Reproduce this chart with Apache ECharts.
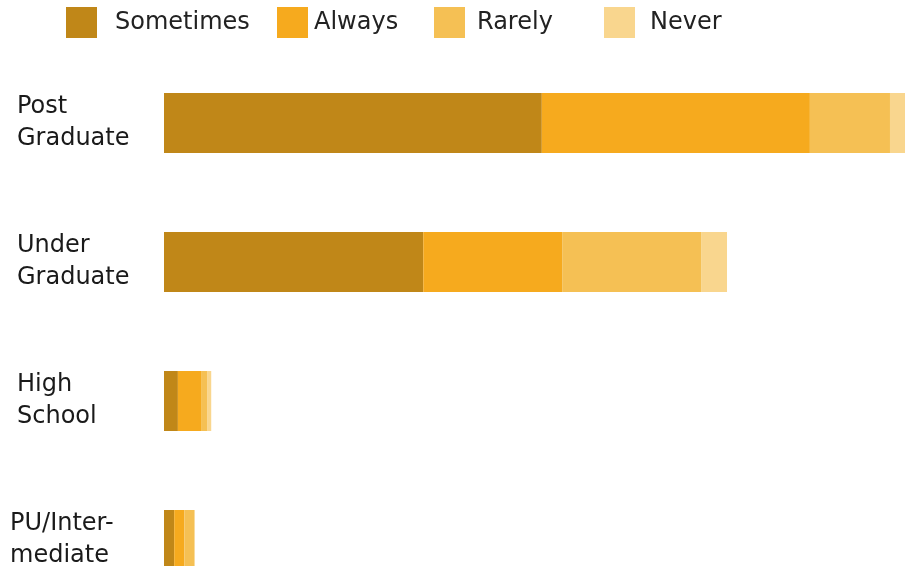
<!DOCTYPE html>
<html>
<head>
<meta charset="utf-8">
<script src="https://cdn.jsdelivr.net/npm/echarts@6/dist/echarts.min.js"></script>
<style>
  html, body { margin: 0; padding: 0; background: #ffffff; }
  #chart { width: 905px; height: 566px; }
</style>
</head>
<body>
<div id="chart"></div>
<script>
// Education levels (top to bottom) and response frequencies
const categories = ['Post\nGraduate', 'Under\nGraduate', 'High\nSchool', 'PU/Inter-\nmediate'];
const seriesNames = ['Sometimes', 'Always', 'Rarely', 'Never'];
const sometimes = [81.6, 56, 3, 2.2];
const always    = [57.9, 30, 5, 2.2];
const rarely    = [17.3, 30, 1.3, 2.2];
const never     = [6, 5.6, 0.9, 0];
const colors = ['#C08718', '#F6AA1E', '#F5C054', '#F9D68E'];

const FONT = 'DejaVu Sans';
const values = [sometimes, always, rarely, never];

// one legend block per entry so each can sit at its own spot
const legendLeft = [66, 277, 434, 604];
const legendTextPad = [13, 1, 7, 10];
const legends = seriesNames.map((name, i) => ({
  data: [name],
  left: legendLeft[i],
  top: 7,
  padding: 0,
  orient: 'horizontal',
  itemWidth: 31,
  itemHeight: 31,
  icon: 'rect',
  selectedMode: false,
  textStyle: {
    fontFamily: FONT,
    fontSize: 24,
    color: '#222222',
    padding: [3, 0, 0, legendTextPad[i]]
  }
}));

// the last label sits a little further left than the others
const labelShift = [7, 7, 7, 0];
const labelStyle = {
  align: 'left',
  fontFamily: FONT,
  fontSize: 24,
  lineHeight: 32,
  color: '#1a1a1a'
};
const yData = categories.map((c, i) => ({
  value: c,
  textStyle: Object.assign({}, labelStyle, { padding: [0, 0, 0, labelShift[i]] })
}));

const chart = echarts.init(document.getElementById('chart'), null, { renderer: 'canvas' });
chart.setOption({
  animation: false,
  color: colors,
  legend: legends,
  grid: {
    left: 164, top: 53.5, width: 926, height: 556,
    containLabel: false,
    outerBoundsMode: 'none'
  },
  xAxis: {
    type: 'value',
    min: 0,
    max: 200,
    show: false
  },
  yAxis: {
    type: 'category',
    data: yData,
    inverse: true,
    axisLine: { show: false },
    axisTick: { show: false },
    splitLine: { show: false },
    axisLabel: Object.assign({ margin: 154 }, labelStyle)
  },
  series: seriesNames.map((name, i) => ({
    name: name,
    type: 'bar',
    stack: 'total',
    barWidth: 60,
    data: values[i],
    itemStyle: { color: colors[i] },
    emphasis: { disabled: true }
  }))
});
</script>
</body>
</html>
